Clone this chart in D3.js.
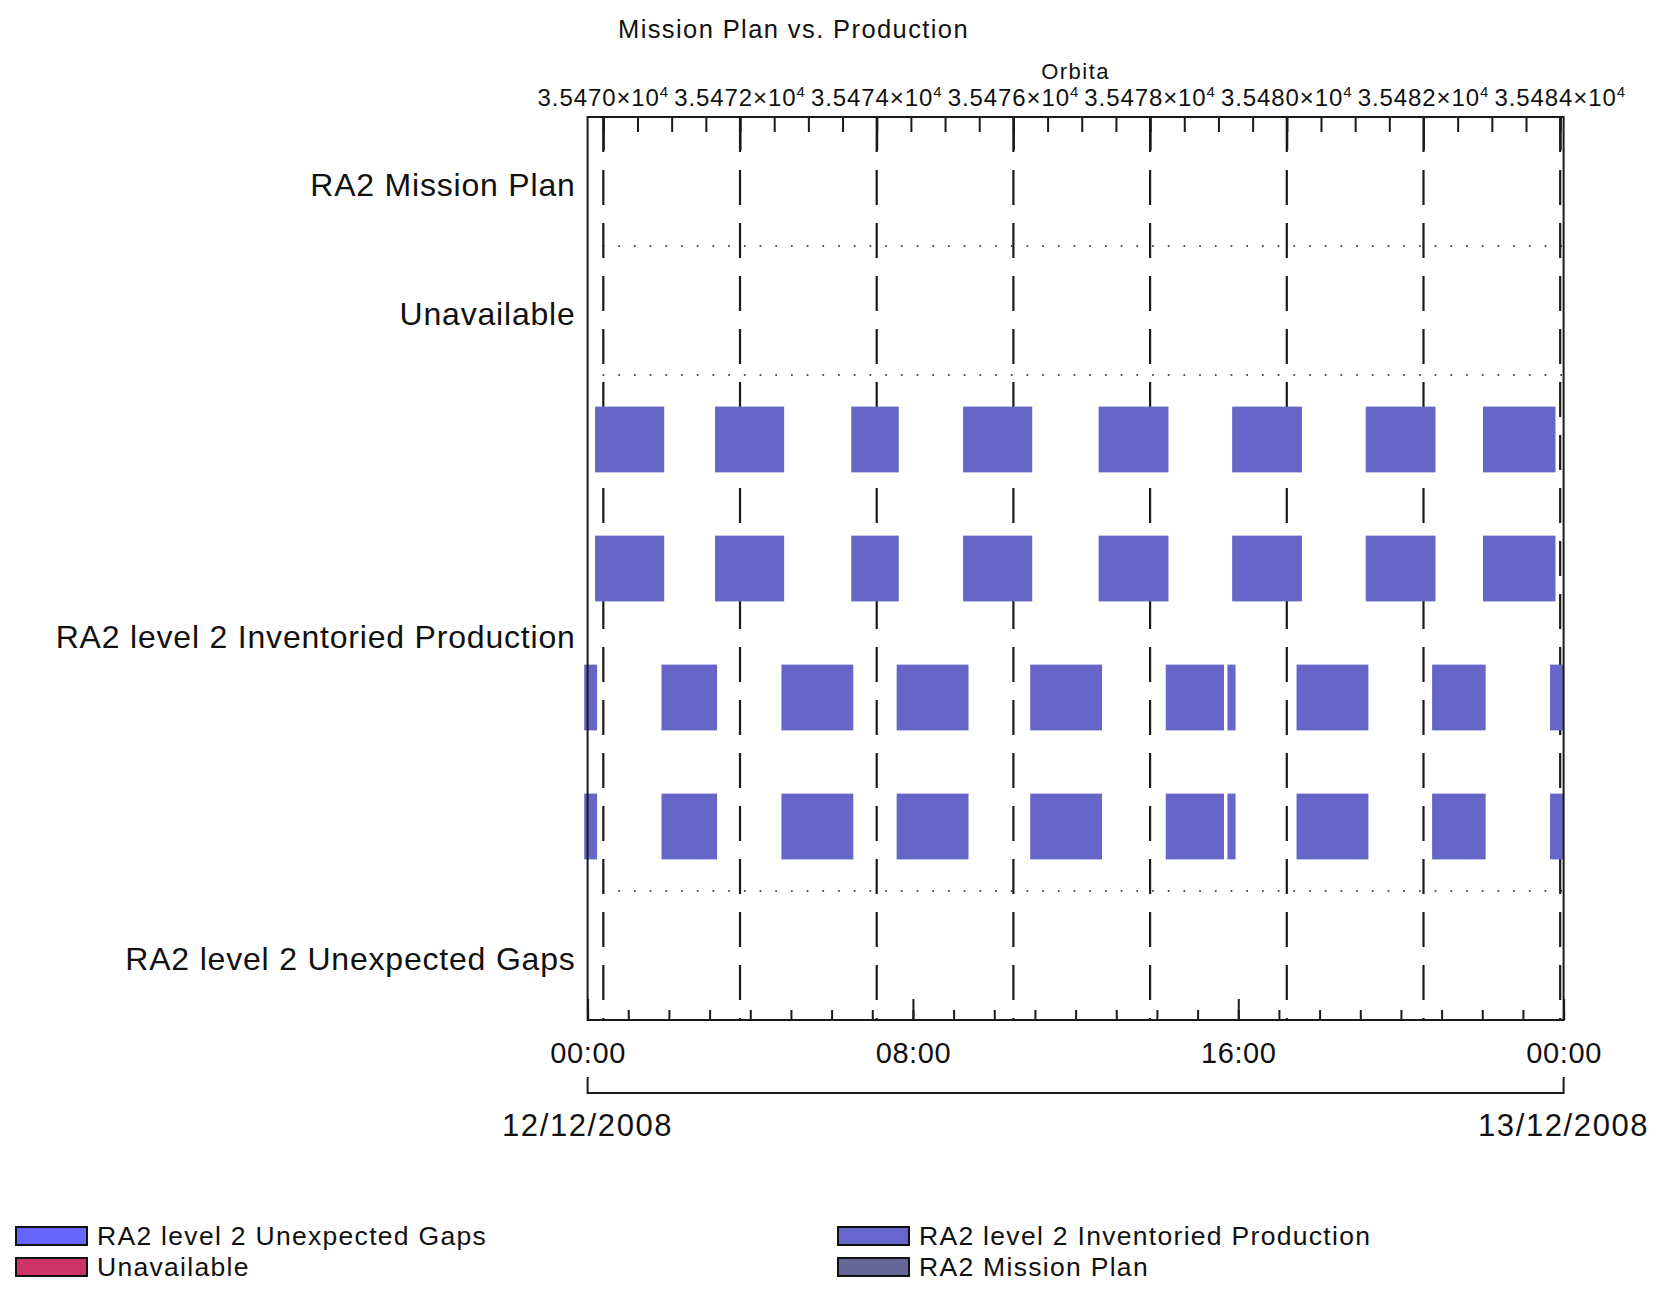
<!DOCTYPE html>
<meta charset="utf-8">
<style>

body {
  margin: 0;
  background: #fff;
}

svg {
  display: block;
  font-family: "Liberation Sans", Arial, sans-serif;
}

text {
  fill: #111;
}

.frame {
  fill: none;
  stroke: #1a1a1a;
  stroke-width: 2px;
}

.grid {
  stroke: #1a1a1a;
  stroke-width: 2.2px;
  stroke-dasharray: 35 18;
}

.sep {
  stroke: #1a1a1a;
  stroke-width: 1.7px;
  stroke-dasharray: 1.7 14;
}

.axis line {
  stroke: #1a1a1a;
  stroke-width: 2px;
}

.axis .domain {
  display: none;
}

.bar {
  fill: #6666c8;
}

</style>
<svg width="1669" height="1292"></svg>
<script src="https://d3js.org/d3.v7.min.js"></script>
<script>

var title = "Mission Plan vs. Production",
    orbitTitle = "Orbita";

// rows of the chart, top to bottom, and how many bar lanes each one holds
var categories = ["RA2 Mission Plan", "Unavailable", "RA2 level 2 Inventoried Production", "RA2 level 2 Unexpected Gaps"];
var categoryLanes = [1, 1, 4, 1];

var timeStart = "2008-12-12 00:00",
    timeEnd = "2008-12-13 00:00";

var orbitStart = 35469.77,
    orbitEnd = 35484.05;
var orbitTicks = [35470, 35472, 35474, 35476, 35478, 35480, 35482, 35484];

// production intervals per lane [start, end]
var production1 = [
  ["2008-12-12 00:11", "2008-12-12 01:53"], ["2008-12-12 03:08", "2008-12-12 04:50"],
  ["2008-12-12 06:29", "2008-12-12 07:39"], ["2008-12-12 09:14", "2008-12-12 10:56"],
  ["2008-12-12 12:34", "2008-12-12 14:17"], ["2008-12-12 15:51", "2008-12-12 17:34"],
  ["2008-12-12 19:08", "2008-12-12 20:51"], ["2008-12-12 22:01", "2008-12-12 23:48"]
];
var production2 = [
  ["2008-12-12 00:11", "2008-12-12 01:53"], ["2008-12-12 03:08", "2008-12-12 04:50"],
  ["2008-12-12 06:29", "2008-12-12 07:39"], ["2008-12-12 09:14", "2008-12-12 10:56"],
  ["2008-12-12 12:34", "2008-12-12 14:17"], ["2008-12-12 15:51", "2008-12-12 17:34"],
  ["2008-12-12 19:08", "2008-12-12 20:51"], ["2008-12-12 22:01", "2008-12-12 23:48"]
];
var production3 = [
  ["2008-12-11 23:55", "2008-12-12 00:14"], ["2008-12-12 01:49", "2008-12-12 03:11"],
  ["2008-12-12 04:46", "2008-12-12 06:32"], ["2008-12-12 07:36", "2008-12-12 09:22"],
  ["2008-12-12 10:53", "2008-12-12 12:39"], ["2008-12-12 14:13", "2008-12-12 15:39"],
  ["2008-12-12 15:44", "2008-12-12 15:56"], ["2008-12-12 17:26", "2008-12-12 19:12"],
  ["2008-12-12 20:46", "2008-12-12 22:05"], ["2008-12-12 23:40", "2008-12-13 00:00"]
];
var production4 = [
  ["2008-12-11 23:55", "2008-12-12 00:14"], ["2008-12-12 01:49", "2008-12-12 03:11"],
  ["2008-12-12 04:46", "2008-12-12 06:32"], ["2008-12-12 07:36", "2008-12-12 09:22"],
  ["2008-12-12 10:53", "2008-12-12 12:39"], ["2008-12-12 14:13", "2008-12-12 15:39"],
  ["2008-12-12 15:44", "2008-12-12 15:56"], ["2008-12-12 17:26", "2008-12-12 19:12"],
  ["2008-12-12 20:46", "2008-12-12 22:05"], ["2008-12-12 23:40", "2008-12-13 00:00"]
];

var legendLabels = ["RA2 level 2 Unexpected Gaps", "Unavailable", "RA2 level 2 Inventoried Production", "RA2 Mission Plan"];
var legendColors = ["#6666ff", "#cc3366", "#6666cc", "#666699"];

var svg = d3.select("svg"),
    margin = {top: 117, right: 105.4, bottom: 272, left: 587.6},
    width = svg.attr("width") - margin.left - margin.right,
    height = svg.attr("height") - margin.top - margin.bottom,
    g = svg.append("g").attr("transform", "translate(" + margin.left + "," + margin.top + ")");

var parseTime = d3.timeParse("%Y-%m-%d %H:%M"),
    formatDate = d3.timeFormat("%d/%m/%Y");

var x = d3.scaleTime().domain([parseTime(timeStart), parseTime(timeEnd)]).range([0, width]),
    orbit = d3.scaleLinear().domain([orbitStart, orbitEnd]).range([0, width]),
    totalLanes = d3.sum(categoryLanes),
    y = d3.scaleLinear().domain([0, totalLanes]).range([height, 0]);

// top lane index of each category (counted from the bottom)
var catTop = [], acc = totalLanes;
categoryLanes.forEach(function(n) { catTop.push(acc); acc -= n; });

// category separators
g.selectAll(".sep")
    .data(catTop.slice(1).filter(function(v) { return v > 0; }))
  .enter().append("line")
    .attr("class", "sep")
    .attr("x1", 15).attr("x2", width)
    .attr("y1", function(d) { return y(d); })
    .attr("y2", function(d) { return y(d); });

// vertical dashed grid at orbit ticks
g.selectAll(".grid")
    .data(orbitTicks)
  .enter().append("line")
    .attr("class", "grid")
    .attr("x1", function(d) { return orbit(d); })
    .attr("x2", function(d) { return orbit(d); })
    .attr("y1", 0).attr("y2", height);

// production bars
var prodIndex = categories.indexOf("RA2 level 2 Inventoried Production"),
    lanes = [production1, production2, production3, production4],
    barH = y(0) - y(0.51);

lanes.forEach(function(lane, j) {
  var center = catTop[prodIndex] - j - 0.5;
  g.selectAll(".bar-" + j)
      .data(lane)
    .enter().append("rect")
      .attr("class", "bar bar-" + j)
      .attr("x", function(d) { return x(parseTime(d[0])); })
      .attr("width", function(d) { return x(parseTime(d[1])) - x(parseTime(d[0])); })
      .attr("y", y(center) - barH / 2)
      .attr("height", barH);
});

// frame
g.append("rect")
    .attr("class", "frame")
    .attr("width", width)
    .attr("height", height);

// top orbit axis
g.append("g")
    .attr("class", "axis")
    .call(d3.axisTop(orbit).tickValues(d3.range(orbitTicks[0], orbitEnd, 0.5)).tickSize(-15).tickFormat(""));

g.append("g")
    .attr("class", "axis")
    .call(d3.axisTop(orbit).tickValues(orbitTicks).tickSize(-33).tickFormat(""));

var orbitLabel = g.selectAll(".orbit-label")
    .data(orbitTicks)
  .enter().append("text")
    .attr("class", "orbit-label")
    .attr("x", function(d) { return orbit(d); })
    .attr("y", -11)
    .attr("text-anchor", "middle")
    .style("font-size", "24px")
    .style("letter-spacing", "0.9px");

orbitLabel.append("tspan")
    .text(function(d) { return (d / 1e4).toFixed(4) + "\u00d710"; });
orbitLabel.append("tspan")
    .attr("dy", -9)
    .style("font-size", "15px")
    .text("4");

g.append("text")
    .attr("x", width / 2)
    .attr("y", -38)
    .attr("text-anchor", "middle")
    .style("font-size", "22px")
    .style("letter-spacing", "1.5px")
    .text(orbitTitle);

// bottom time axis
g.append("g")
    .attr("class", "axis")
    .attr("transform", "translate(0," + height + ")")
    .call(d3.axisBottom(x).ticks(d3.timeHour.every(1)).tickSize(-10).tickFormat(""));

var timeAxis = g.append("g")
    .attr("class", "axis")
    .attr("transform", "translate(0," + height + ")")
    .call(d3.axisBottom(x).ticks(d3.timeHour.every(8)).tickSize(-21).tickPadding(22).tickFormat(d3.timeFormat("%H:%M")));

timeAxis.selectAll("text")
    .attr("fill", "#111")
    .style("font-family", "\"Liberation Sans\", Arial, sans-serif")
    .style("font-size", "29px")
    .style("letter-spacing", "0.6px");

// date bracket
g.append("path")
    .attr("d", "M0," + (height + 57) + "V" + (height + 73) + "H" + width + "V" + (height + 57))
    .attr("fill", "none")
    .attr("stroke", "#1a1a1a")
    .attr("stroke-width", 2);

g.selectAll(".date-label")
    .data(x.domain())
  .enter().append("text")
    .attr("class", "date-label")
    .attr("x", function(d) { return x(d); })
    .attr("y", height + 116)
    .attr("text-anchor", "middle")
    .style("font-size", "31px")
    .style("letter-spacing", "1.6px")
    .text(function(d) { return formatDate(d); });

// category labels
g.selectAll(".cat-label")
    .data(categories)
  .enter().append("text")
    .attr("class", "cat-label")
    .attr("x", -12)
    .attr("y", function(d, i) { return y(catTop[i] - categoryLanes[i] / 2) + 14.5; })
    .attr("text-anchor", "end")
    .style("font-size", "32px")
    .style("letter-spacing", "0.8px")
    .text(function(d) { return d; });

// title
svg.append("text")
    .attr("x", 793.5)
    .attr("y", 38)
    .attr("text-anchor", "middle")
    .style("font-size", "25.5px")
    .style("letter-spacing", "1.4px")
    .text(title);

// legend, two columns of two
var legend = svg.selectAll(".legend")
    .data(legendLabels)
  .enter().append("g")
    .attr("class", "legend")
    .attr("transform", function(d, i) {
      return "translate(" + (i < 2 ? 16 : 838) + "," + (1227 + (i % 2) * 31) + ")";
    });

legend.append("rect")
    .attr("width", 71)
    .attr("height", 18)
    .attr("fill", function(d, i) { return legendColors[i]; })
    .attr("stroke", "#111")
    .attr("stroke-width", 2);

legend.append("text")
    .attr("x", 81)
    .attr("y", 18)
    .style("font-size", "26.5px")
    .style("letter-spacing", "1.3px")
    .text(function(d) { return d; });

</script>
